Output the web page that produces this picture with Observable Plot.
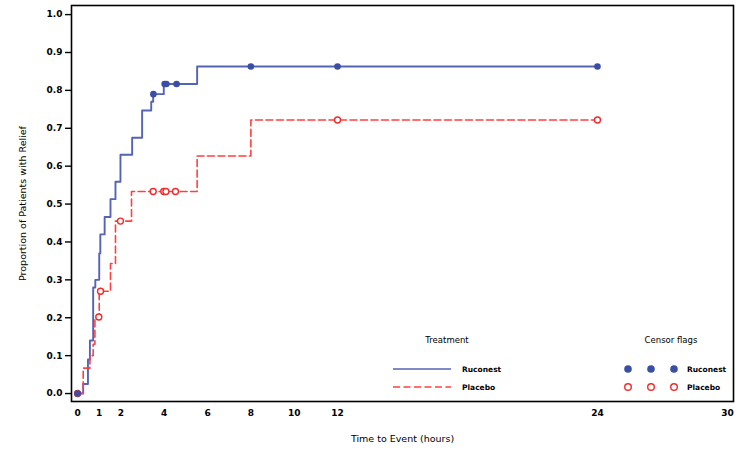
<!DOCTYPE html>
<html>
<head>
<meta charset="utf-8">
<script src="https://cdn.jsdelivr.net/npm/d3@7"></script>
<script src="https://cdn.jsdelivr.net/npm/@observablehq/plot@0.6"></script>
<style>
  html, body { margin: 0; padding: 0; background: #fff; }
  #chart { position: relative; width: 739px; height: 452px; }
</style>
</head>
<body>
<div id="chart"></div>
<script>
// Kaplan-Meier style cumulative proportion with relief
const rucTime = [0, 0.26, 0.48, 0.57, 0.72, 0.82, 1.0, 1.05, 1.25, 1.52, 1.75, 1.98, 2.52, 2.98, 3.4, 3.49, 3.98, 5.52, 24];
const rucProp = [0, 0.025, 0.09, 0.14, 0.28, 0.30, 0.37, 0.42, 0.466, 0.513, 0.559, 0.63, 0.675, 0.747, 0.77, 0.79, 0.817, 0.863, 0.863];
const plaTime = [0, 0.26, 0.57, 0.72, 0.8, 1.0, 1.52, 1.75, 2.49, 5.52, 8.0, 24];
const plaProp = [0, 0.067, 0.10, 0.13, 0.20, 0.27, 0.343, 0.455, 0.533, 0.627, 0.722, 0.722];

// censored observations
const rucCensTime = [0, 3.5, 4.02, 4.1, 4.57, 8, 12, 24];
const rucCensProp = [0, 0.79, 0.817, 0.817, 0.817, 0.863, 0.863, 0.863];
const plaCensTime = [0, 0.98, 1.06, 1.98, 3.49, 3.98, 4.08, 4.52, 12, 24];
const plaCensProp = [0, 0.202, 0.27, 0.455, 0.533, 0.533, 0.533, 0.533, 0.722, 0.722];

const xTicks = [0, 1, 2, 4, 6, 8, 10, 12, 24, 30];
const yTicks = [0, 0.1, 0.2, 0.3, 0.4, 0.5, 0.6, 0.7, 0.8, 0.9, 1.0];

const groups = ["Ruconest", "Placebo"];
const lineColor = {Ruconest: "#5563b5", Placebo: "#ff4040"};
const censColor = {Ruconest: "#3a4ea6", Placebo: "#f22a2a"};

const ruc = rucTime.map((t, i) => ({t, p: rucProp[i]}));
const pla = plaTime.map((t, i) => ({t, p: plaProp[i]}));
const rucC = rucCensTime.map((t, i) => ({t, p: rucCensProp[i]}));
const plaC = plaCensTime.map((t, i) => ({t, p: plaCensProp[i]}));

const font = "'DejaVu Sans', sans-serif";

const plot = Plot.plot({
  width: 739,
  height: 452,
  marginLeft: 71,
  marginRight: 6,
  marginTop: 5,
  marginBottom: 51,
  style: {fontFamily: font, fontSize: "9px", color: "#000", background: "#fff"},
  x: {domain: [-0.28, 30.28], ticks: xTicks, tickSize: 0, tickPadding: 8,
      label: "Time to Event (hours)", labelAnchor: "center", labelArrow: "none", labelOffset: 40,
      tickFormat: d => String(d)},
  y: {domain: [-0.021, 1.024], ticks: yTicks, tickSize: 6, tickPadding: 3,
      label: "Proportion of Patients with Relief", labelAnchor: "center", labelArrow: "none", labelOffset: 52,
      tickFormat: d3.format(".1f")},
  marks: [
    Plot.frame({stroke: "#000", strokeWidth: 1.6}),
    Plot.line(ruc, {x: "t", y: "p", curve: "step-after", stroke: lineColor.Ruconest, strokeWidth: 1.9}),
    Plot.line(pla, {x: "t", y: "p", curve: "step-after", stroke: lineColor.Placebo, strokeWidth: 1.6, strokeDasharray: "7,3.5"}),
    Plot.dot(plaC, {x: "t", y: "p", r: 3, stroke: censColor.Placebo, strokeWidth: 1.4, fill: "#fff"}),
    Plot.dot(rucC, {x: "t", y: "p", r: 3.3, fill: censColor.Ruconest, stroke: "none"})
  ]
});

document.getElementById("chart").appendChild(plot);

// style axis text
const svg = d3.select(plot);
svg.selectAll("[aria-label='x-axis tick label'] text, [aria-label='y-axis tick label'] text")
  .attr("font-weight", "bold");
svg.selectAll("[aria-label='x-axis label'] text, [aria-label='y-axis label'] text")
  .attr("font-size", "9.5px");
svg.selectAll("[aria-label='y-axis tick'] path").attr("stroke-width", 1.4);

// legend inside the plot frame
const lg = svg.append("g").attr("font-family", font).attr("font-size", "7.5px")
  .attr("fill", "#000").attr("text-anchor", "start");
lg.append("text").attr("x", 447).attr("y", 340).attr("text-anchor", "middle").attr("dy", "0.35em").attr("font-size", "8.5px").text("Treatment");
lg.append("text").attr("x", 671).attr("y", 340).attr("text-anchor", "middle").attr("dy", "0.35em").attr("font-size", "8.5px").text("Censor flags");
const rowY = [369, 387];
groups.forEach((g, i) => {
  const y = rowY[i];
  lg.append("line").attr("x1", 393).attr("x2", 451).attr("y1", y).attr("y2", y)
    .attr("stroke", lineColor[g]).attr("stroke-width", 1.6)
    .attr("stroke-dasharray", i === 0 ? null : "7,3.5");
  lg.append("text").attr("x", 462).attr("y", y).attr("dy", "0.35em").attr("font-weight", "bold").text(g);
  [628, 651, 674].forEach(cx => {
    const c = lg.append("circle").attr("cx", cx).attr("cy", y);
    if (i === 0) c.attr("r", 3.8).attr("fill", censColor[g]);
    else c.attr("r", 3.3).attr("fill", "#fff").attr("stroke", censColor[g]).attr("stroke-width", 1.4);
  });
  lg.append("text").attr("x", 687).attr("y", y).attr("dy", "0.35em").attr("font-weight", "bold").text(g);
});
</script>
</body>
</html>
